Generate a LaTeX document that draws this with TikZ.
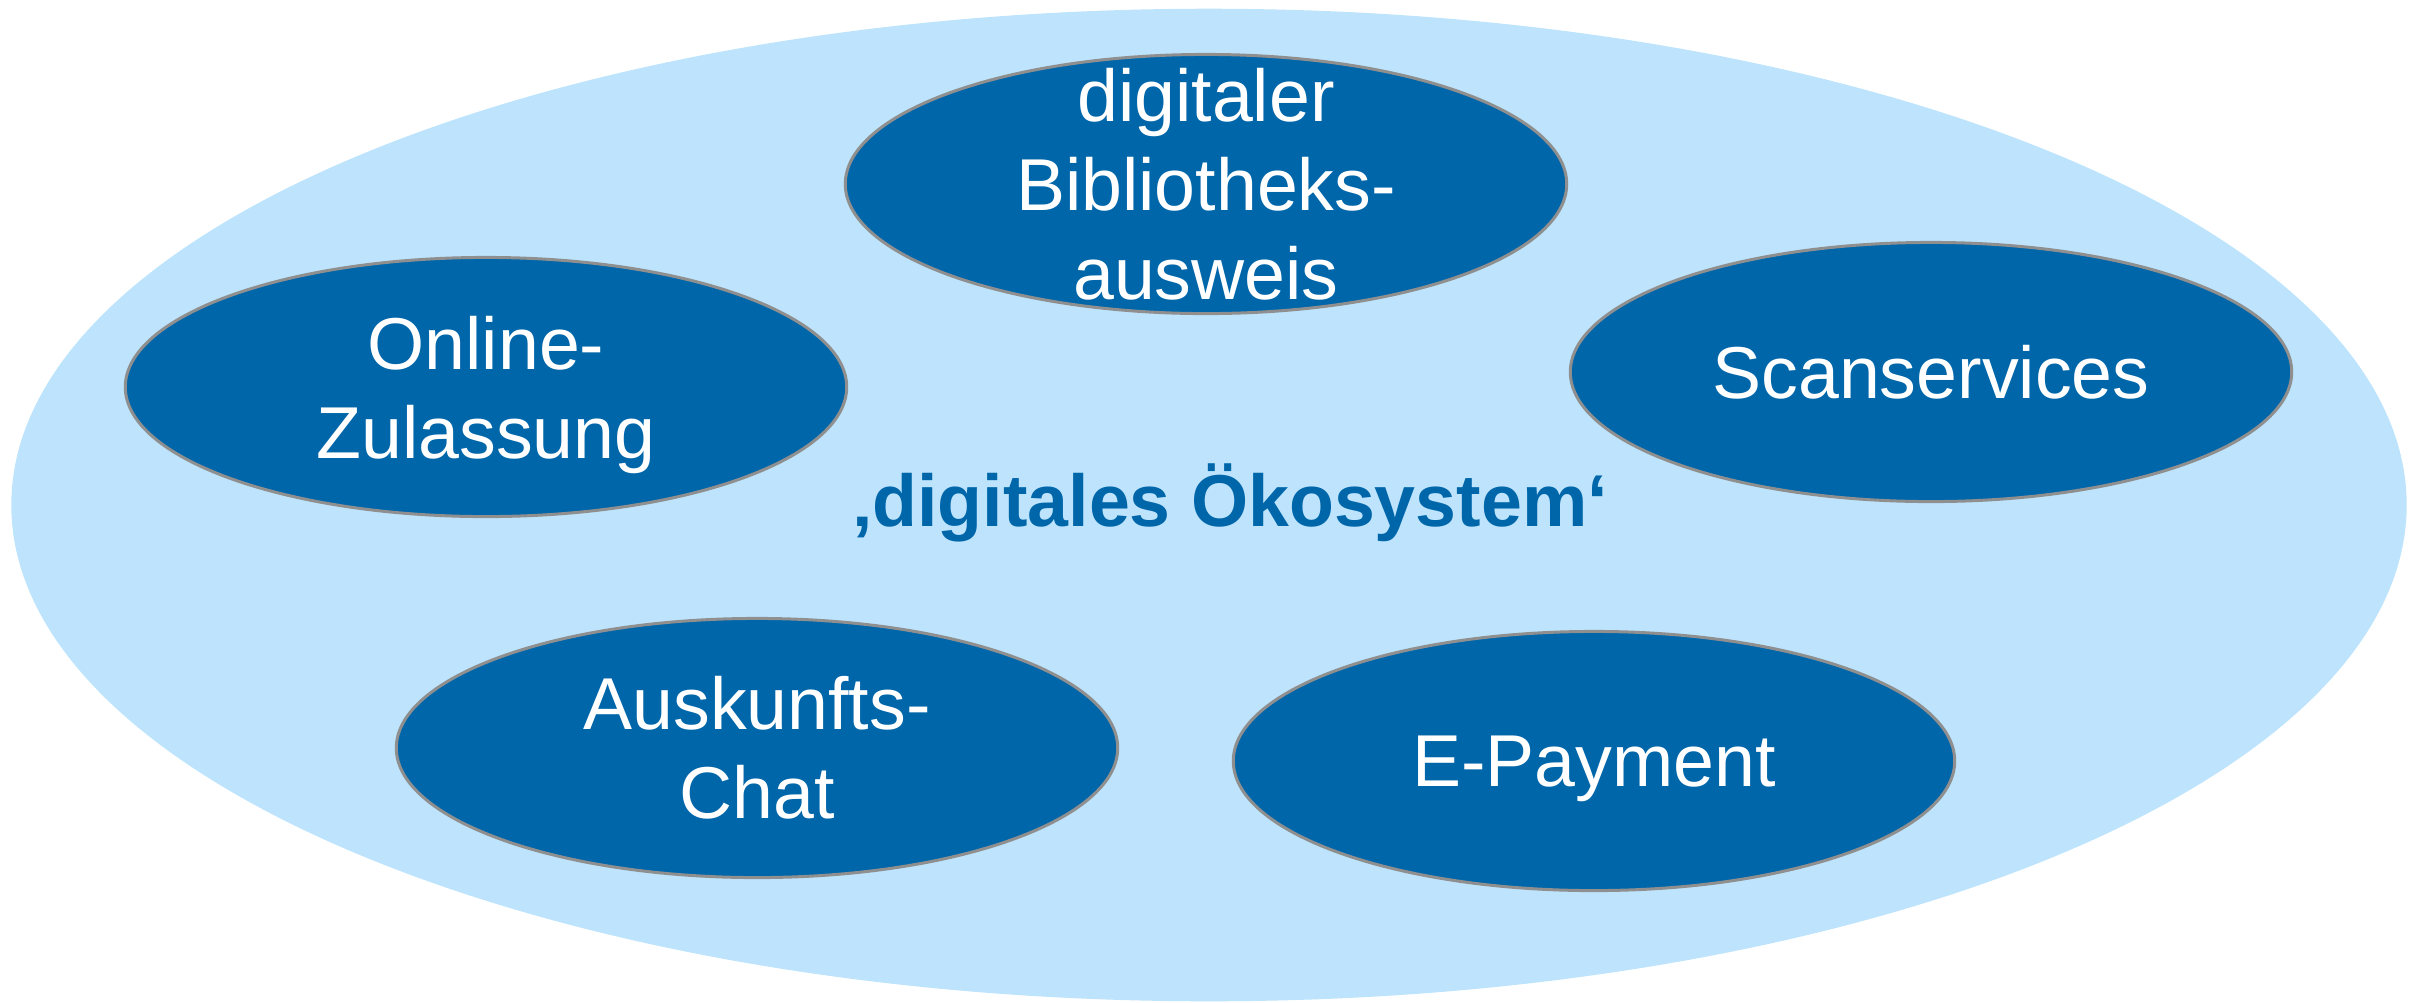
\documentclass[tikz,border=0pt]{standalone}
\usepackage{fontspec}
\setmainfont{Liberation Sans}
\usetikzlibrary{shapes.geometric}
\definecolor{dunkelblau}{RGB}{0,102,170}
\definecolor{hellblau}{RGB}{189,228,252}
\definecolor{randgrau}{RGB}{143,143,143}

\begin{document}
\begin{tikzpicture}[x=0.01cm,y=-0.01cm,
                    dienst/.style={ellipse,draw=randgrau,line width=0.85pt,fill=dunkelblau,inner sep=0,minimum width=7.21cm,minimum height=2.59cm},
                    dienstlabel/.style={text=white,align=center,inner sep=0,font=\fontsize{20.9}{25.3}\selectfont},
        ]
        \useasboundingbox (0,0) rectangle (2417,1002);
        \node[ellipse,fill=hellblau,inner sep=0,minimum width=23.94cm,minimum height=9.92cm] (oeko) at (1209,505) {};
%
        \node[dienst] (ausweis) at (1206,184) {};
        \node[dienst] (zulassung) at (486,387) {};
        \node[dienst] (scan) at (1931,372) {};
        \node[dienst] (chat) at (757,748) {};
        \node[dienst] (payment) at (1594,761) {};
%
        \node[dienstlabel] (ausweistext) at (ausweis) {digitaler\\Bibliotheks-\\ausweis};
        \node[dienstlabel] (zulassungtext) at ([yshift=-0.08cm]zulassung.center) {Online-\\Zulassung};
        \node[dienstlabel] (scantext) at (scan) {Scanservices};
        \node[dienstlabel] (chattext) at (chat) {Auskunfts-\\Chat};
        \node[dienstlabel] (paymenttext) at ([yshift=-0.08cm]payment.center) {E-Payment};
%
        \node[anchor=base,text=dunkelblau,font=\bfseries\fontsize{20.9}{25.3}\selectfont] (titel) at (1230,526) {‚digitales Ökosystem‘};
    \end{tikzpicture}
\end{document}
